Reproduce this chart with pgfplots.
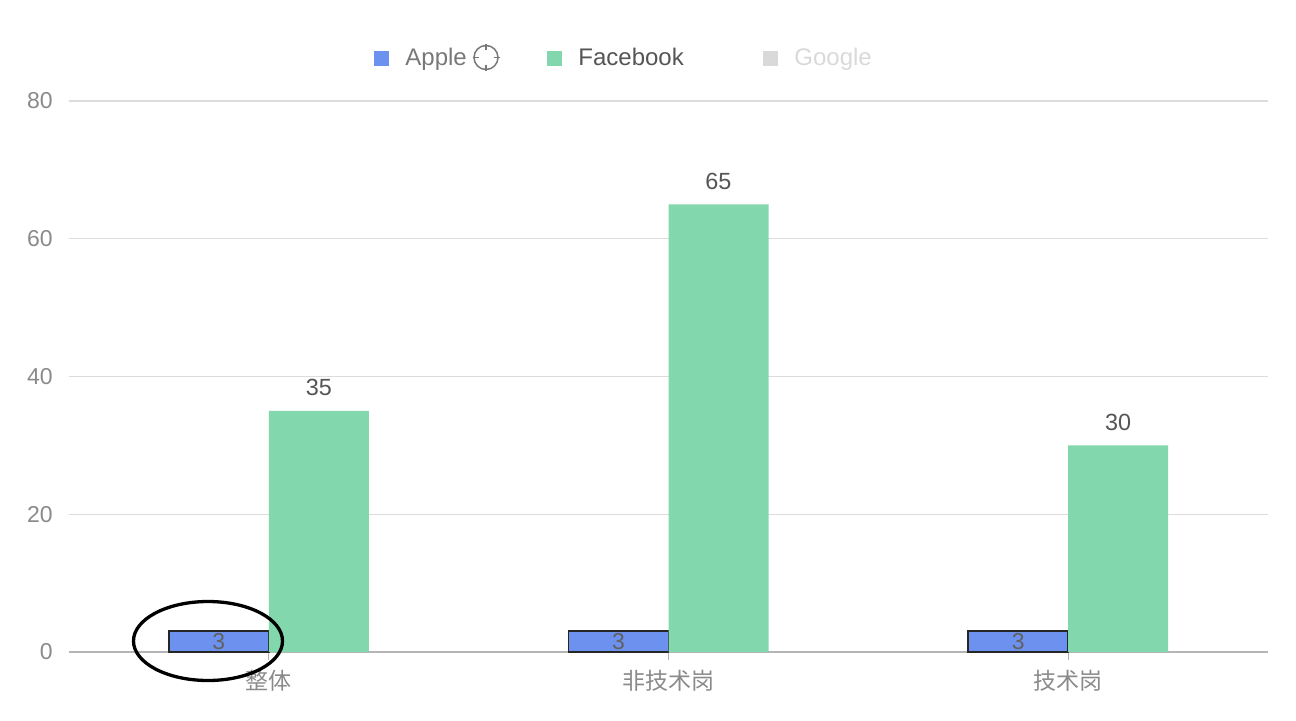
\documentclass[border=0pt]{standalone}
\usepackage{fontspec}
\setmainfont{Liberation Sans}
\newfontfamily\cjk{Noto Sans CJK SC}
\usepackage{pgfplots}
\pgfplotsset{compat=1.18}

\definecolor{appleblue}{HTML}{6C91EF}
\definecolor{fbgreen}{HTML}{83D7AD}
\definecolor{googlegray}{HTML}{D9D9D9}
\definecolor{gridgray}{HTML}{DCDCDC}
\definecolor{axisgray}{HTML}{B5B5B5}
\definecolor{ticktext}{HTML}{8A8A8A}
\definecolor{labeltext}{HTML}{555555}

\begin{document}
\begin{tikzpicture}
% page = 1296x720 px at 0.5pt per px, axis box starts at px (69,652)
\useasboundingbox (-34.5pt,-34pt) rectangle (613.5pt,326pt);
\begin{axis}[
    at={(0,0)}, anchor=south west,
    scale only axis,
    width=599.5pt, height=275.5pt,
    xmin=-0.5, xmax=2.5,
    ymin=0, ymax=80,
    xtick={0,1,2},
    xticklabels={{\cjk 整体},{\cjk 非技术岗},{\cjk 技术岗}},
    ytick={0,20,40,60,80},
    axis x line*=bottom,
    axis y line*=left,
    x axis line style={draw=axisgray, line width=0.6pt},
    y axis line style={draw=none},
    ymajorgrids,
    major grid style={draw=gridgray, line width=0.6pt},
    tick align=outside,
    major tick length=4pt,
    xtick style={draw=axisgray, line width=0.6pt},
    ytick style={draw=none},
    tick label style={font=\fontsize{11.5}{13}\selectfont, text=ticktext},
    yticklabel style={anchor=east, inner sep=0pt, xshift=-4pt},
    xticklabel style={anchor=north, inner sep=0pt, yshift=-5pt},
    /pgf/number format/assume math mode=true,
    ybar, bar width=50pt,
    clip=false,
]
    \addplot[ybar, bar shift=-25pt, fill=appleblue, draw=black!85, line width=0.9pt,
        nodes near coords,
        every node near coord/.append style={anchor=center, yshift=-5.2pt,
            font=\fontsize{11.5}{13}\selectfont, text=black!62}]
        coordinates {(0,3) (1,3) (2,3)};
    \addplot[ybar, bar shift=25pt, fill=fbgreen, draw=none,
        nodes near coords,
        every node near coord/.append style={anchor=base, inner sep=0pt, yshift=7.5pt,
            font=\fontsize{11.7}{13}\selectfont, text=labeltext}]
        coordinates {(0,35) (1,65) (2,30)};
\end{axis}

% legend and the hand-drawn circle, in pixel units of the reference
\begin{scope}[shift={(-34.5pt,326pt)}, x=0.5pt, y=-0.5pt]
    \fill[appleblue] (374,51) rectangle (389,66);
    \node[anchor=base west, inner sep=0pt, text=black!53,
        font=\fontsize{12}{14}\selectfont] at (405,65.7) {Apple};
    \draw[black!53, line width=0.75pt] (486,57.5) circle[radius=6pt];
    \draw[black!53, line width=0.75pt]
        (486,44) -- (486,50) (486,65) -- (486,71)
        (472.5,57.5) -- (478.5,57.5) (493.5,57.5) -- (499.5,57.5);
    \fill[fbgreen] (547,51) rectangle (562,66);
    \node[anchor=base west, inner sep=0pt, text=labeltext,
        font=\fontsize{12}{14}\selectfont] at (578,65.7) {Facebook};
    \fill[googlegray] (763,51) rectangle (778,66);
    \node[anchor=base west, inner sep=0pt, text=googlegray,
        font=\fontsize{12}{14}\selectfont] at (794,65.7) {Google};
    \draw[black, line width=1.65pt] (208,641) ellipse[x radius=37.25pt, y radius=19.75pt];
\end{scope}
\end{tikzpicture}
\end{document}
